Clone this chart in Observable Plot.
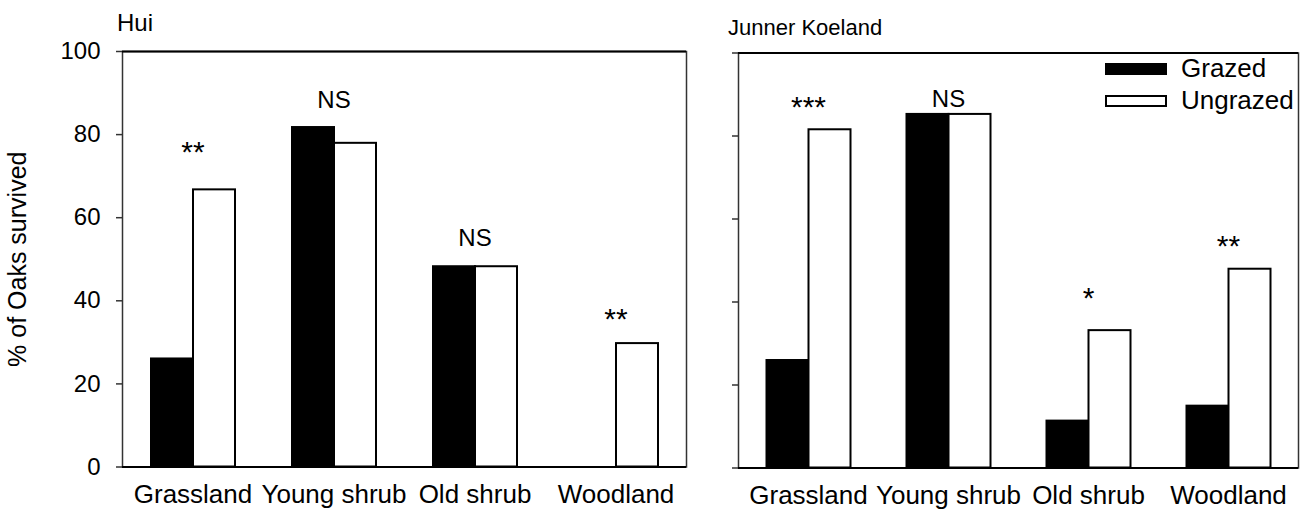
<!DOCTYPE html>
<html><head><meta charset="utf-8">
<script src="https://cdn.jsdelivr.net/npm/d3@7"></script>
<script src="https://cdn.jsdelivr.net/npm/@observablehq/plot@0.6"></script>
<style>
body{margin:0;background:#fff;font-family:"Liberation Sans",Arial,sans-serif;color:#000;}
#wrap{position:relative;width:1308px;height:513px;overflow:hidden;background:#fff;}
.panel{position:absolute;top:0;}
.abs{position:absolute;white-space:nowrap;}
.legtext{font-size:26px;line-height:26px;}
</style></head><body>
<div id="wrap"></div>
<script>
// ---- data ----
const habitats = ["Grassland", "Young shrub", "Old shrub", "Woodland"];
const treatments = ["Grazed", "Ungrazed"];
const treatmentColors = ["#000000", "#ffffff"];
const yTicks = [0, 20, 40, 60, 80, 100];
const yLabel = "% of Oaks survived";
const panelTitles = ["Hui", "Junner Koeland"];

const huiGrazed   = [26.0, 81.7, 48.2, 0];
const huiUngrazed = [66.7, 77.9, 48.2, 29.7];
const huiSig      = ["**", "NS", "NS", "**"];
const huiSigY     = [75.8, 88.2, 55.0, 35.5];

const jkGrazed    = [25.9, 85.2, 11.3, 14.9];
const jkUngrazed  = [81.5, 85.2, 33.1, 47.9];
const jkSig       = ["***", "NS", "*", "**"];
const jkSigY      = [86.9, 88.8, 40.8, 53.4];

const FONT = '"Liberation Sans", Arial, sans-serif';

function panel({grazed, ungrazed, sig, sigY, showLabels, width, marginLeft, marginRight, marginTop, marginBottom}) {
  const bars = habitats.flatMap((h, i) => [
    {habitat: h, treatment: treatments[0], value: grazed[i]},
    {habitat: h, treatment: treatments[1], value: ungrazed[i]}
  ]);
  const notes = habitats.map((h, i) => ({habitat: h, label: sig[i], y: sigY[i]}));
  const marks = [
    Plot.frame({facet: "super", stroke: "#333", strokeWidth: 1.5}),
    Plot.barY(bars, {fx: "habitat", x: "treatment", y: "value", fill: "treatment", stroke: "#000", strokeWidth: 2}),
    Plot.ruleY([0, 100], {stroke: "#000", strokeWidth: 2}),
    Plot.axisY({anchor: "left", ticks: yTicks, tickSize: 6, tickPadding: 16,
      stroke: "#333", strokeWidth: 1.5, fontSize: 24,
      tickFormat: showLabels ? (d => String(d)) : (() => ""), label: null}),
    Plot.axisFx({anchor: "bottom", tickSize: 0, tickPadding: 18, label: null, fontSize: 26}),
    Plot.text(notes, {fx: "habitat", y: "y", text: "label", fill: "#000",
      fontSize: d => d.label.includes("*") ? 30 : 24})
  ];
  if (showLabels) {
    marks.push(Plot.axisY({anchor: "left", ticks: [], tickSize: 0, fontSize: 25,
      label: yLabel, labelAnchor: "center", labelArrow: "none", labelOffset: 114}));
  }
  return Plot.plot({
    width, height: 513, marginLeft, marginRight, marginTop, marginBottom,
    style: {fontFamily: FONT, fontSize: "24px", color: "#000", background: "#fff", overflow: "visible"},
    fx: {domain: habitats, padding: 0, label: null},
    x: {domain: treatments, paddingInner: 0, paddingOuter: 2 / 3, axis: null},
    y: {domain: [0, 100]},
    color: {domain: treatments, range: treatmentColors},
    marks
  });
}

const wrap = document.getElementById("wrap");

const left = panel({grazed: huiGrazed, ungrazed: huiUngrazed, sig: huiSig, sigY: huiSigY, showLabels: true,
  width: 700, marginLeft: 121, marginRight: 14, marginTop: 51, marginBottom: 46.5});
left.classList.add("panel"); left.style.left = "0px";
wrap.appendChild(left);

const right = panel({grazed: jkGrazed, ungrazed: jkUngrazed, sig: jkSig, sigY: jkSigY, showLabels: false,
  width: 608, marginLeft: 37.5, marginRight: 9, marginTop: 52.5, marginBottom: 45.5});
right.classList.add("panel"); right.style.left = "700px";
wrap.appendChild(right);

function addDiv(cls, text, left, top, extra) {
  const d = document.createElement("div");
  d.className = "abs " + cls;
  d.textContent = text;
  d.style.left = left + "px"; d.style.top = top + "px";
  if (extra) Object.assign(d.style, extra);
  wrap.appendChild(d);
  return d;
}
addDiv("", panelTitles[0], 117, 11, {fontSize: "24px", lineHeight: "24px"});
addDiv("", panelTitles[1], 728, 17, {fontSize: "22px", lineHeight: "22px"});

// legend
addDiv("", "", 1105, 63, {width: "62px", height: "12px", background: treatmentColors[0]});
addDiv("", "", 1105, 95, {width: "58px", height: "8px", background: treatmentColors[1], border: "2px solid #000"});
addDiv("legtext", treatments[0], 1181, 54.5);
addDiv("legtext", treatments[1], 1181, 87);
</script>
</body></html>
